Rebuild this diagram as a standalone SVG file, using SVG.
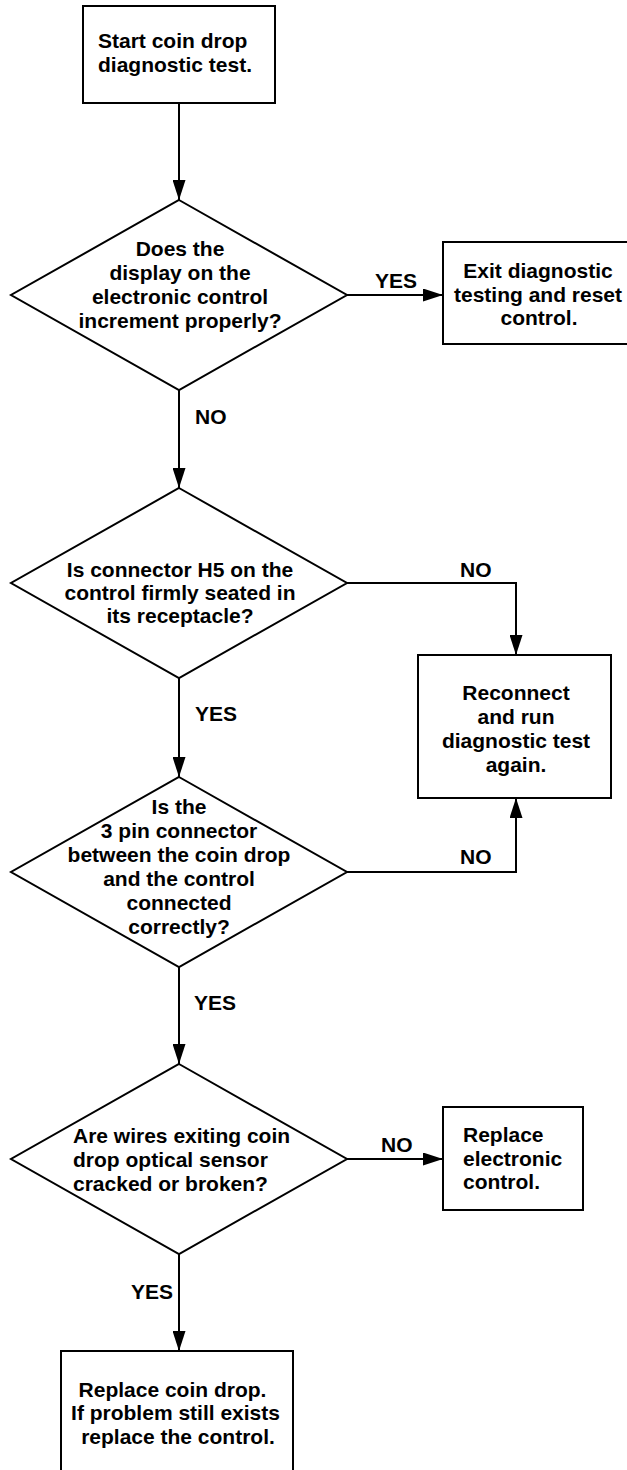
<svg xmlns="http://www.w3.org/2000/svg" width="627" height="1470" viewBox="0 0 627 1470">
<style>
.b{fill:#fff;stroke:#000;stroke-width:2}
.t{font-family:"Liberation Sans",Arial,sans-serif;font-weight:bold;font-size:21px;fill:#000}
.c{text-anchor:middle}
.e{text-anchor:end}
.l{fill:none;stroke:#000;stroke-width:2}
</style>
<defs>
<marker id="ah" markerUnits="userSpaceOnUse" markerWidth="20" markerHeight="13" refX="20" refY="6.5" orient="auto">
<path d="M0,0 L20,6.5 L0,13 z" fill="#000"/>
</marker>
</defs>
<rect width="627" height="1470" fill="#fff"/>
<g id="connectors">
<line class="l" x1="179" y1="103" x2="179" y2="200" marker-end="url(#ah)"/>
<line class="l" x1="347" y1="295" x2="443" y2="295" marker-end="url(#ah)"/>
<line class="l" x1="179" y1="390" x2="179" y2="488" marker-end="url(#ah)"/>
<path class="l" d="M347,583 H516 V655" marker-end="url(#ah)"/>
<line class="l" x1="179" y1="678" x2="179" y2="777" marker-end="url(#ah)"/>
<path class="l" d="M347,872 H516 V798" marker-end="url(#ah)"/>
<line class="l" x1="179" y1="967" x2="179" y2="1064" marker-end="url(#ah)"/>
<line class="l" x1="347" y1="1159" x2="443" y2="1159" marker-end="url(#ah)"/>
<line class="l" x1="179" y1="1254" x2="179" y2="1351" marker-end="url(#ah)"/>
<text class="t" x="375" y="288">YES</text>
<text class="t" x="195" y="424">NO</text>
<text class="t" x="460" y="577">NO</text>
<text class="t" x="195" y="721">YES</text>
<text class="t" x="460" y="864">NO</text>
<text class="t" x="194" y="1010">YES</text>
<text class="t" x="381" y="1152">NO</text>
<text class="t e" x="173" y="1299">YES</text>
</g>
<g id="start">
<rect class="b" x="83" y="6" width="192" height="97"/>
<text class="t" x="98" y="48">Start coin drop</text>
<text class="t" x="98" y="72">diagnostic test.</text>
</g>
<g id="q1">
<polygon class="b" points="179,200 347,295 179,390 11,295"/>
<text class="t c" x="180" y="256">Does the</text>
<text class="t c" x="180" y="280">display on the</text>
<text class="t c" x="180" y="304">electronic control</text>
<text class="t c" x="180" y="328">increment properly?</text>
</g>
<g id="exit">
<rect class="b" x="443" y="242" width="200" height="102"/>
<text class="t c" x="538" y="278">Exit diagnostic</text>
<text class="t c" x="538" y="302">testing and reset</text>
<text class="t c" x="539" y="325">control.</text>
</g>
<g id="q2">
<polygon class="b" points="179,488 347,583 179,678 11,583"/>
<text class="t c" x="180" y="577">Is connector H5 on the</text>
<text class="t c" x="180" y="600">control firmly seated in</text>
<text class="t c" x="180" y="623">its receptacle?</text>
</g>
<g id="reconnect">
<rect class="b" x="418" y="655" width="193" height="143"/>
<text class="t c" x="516" y="700">Reconnect</text>
<text class="t c" x="516" y="724">and run</text>
<text class="t c" x="516" y="748">diagnostic test</text>
<text class="t c" x="516" y="772">again.</text>
</g>
<g id="q3">
<polygon class="b" points="179,777 347,872 179,967 11,872"/>
<text class="t c" x="179" y="814">Is the</text>
<text class="t c" x="179" y="838">3 pin connector</text>
<text class="t c" x="179" y="862">between the coin drop</text>
<text class="t c" x="179" y="886">and the control</text>
<text class="t c" x="179" y="910">connected</text>
<text class="t c" x="179" y="934">correctly?</text>
</g>
<g id="q4">
<polygon class="b" points="179,1064 347,1159 179,1254 11,1159"/>
<text class="t" x="73" y="1143">Are wires exiting coin</text>
<text class="t" x="73" y="1167">drop optical sensor</text>
<text class="t" x="73" y="1191">cracked or broken?</text>
</g>
<g id="replace-control">
<rect class="b" x="443" y="1107" width="140" height="103"/>
<text class="t" x="463" y="1142">Replace</text>
<text class="t" x="463" y="1166">electronic</text>
<text class="t" x="463" y="1189">control.</text>
</g>
<g id="replace-coin-drop">
<rect class="b" x="61" y="1351" width="232" height="130"/>
<text class="t c" x="172.5" y="1397">Replace coin drop.</text>
<text class="t c" x="175.5" y="1420">If problem still exists</text>
<text class="t c" x="178" y="1444">replace the control.</text>
</g>
</svg>
